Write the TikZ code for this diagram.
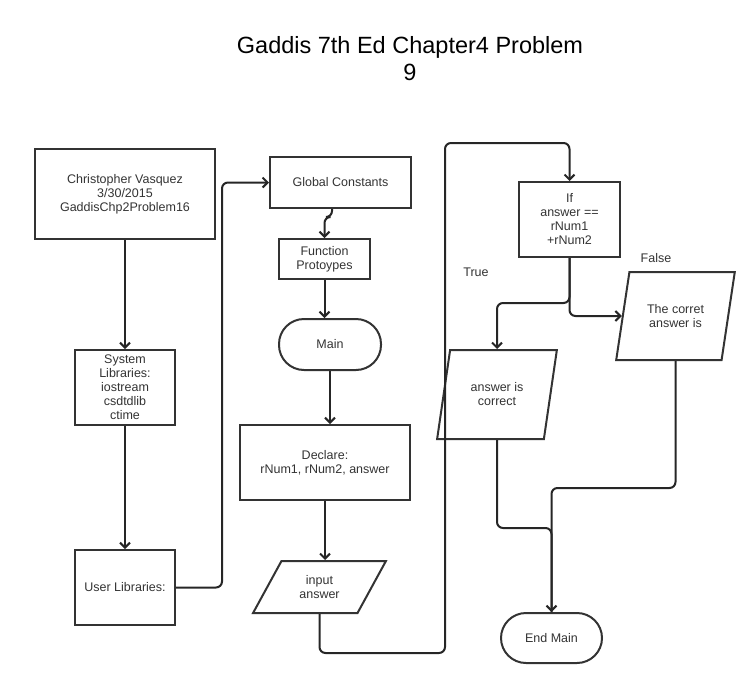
\documentclass[tikz,border=0pt]{standalone}
\usepackage{fontspec}
\setmainfont{Liberation Sans}
\usetikzlibrary{shapes.geometric,arrows.meta}
\definecolor{ln}{HTML}{333333}
\begin{document}
\begin{tikzpicture}[x=1pt,y=-1pt,line width=2pt,
    box/.style={draw=ln,rectangle,align=center,text=ln,inner sep=1pt,font=\fontsize{12.5}{14}\selectfont},
    term/.style={box,rounded corners=25pt},
    io/.style={box,trapezium,trapezium stretches=true,inner sep=0pt},
    arr/.style={draw=black!85,-{Straight Barb[length=5pt,width=10pt]},rounded corners=6pt},
    lnk/.style={draw=black!85,rounded corners=6pt}]
    \useasboundingbox (0,0) rectangle (747,683);
    \node (title) at (410,58.5) [align=center,font=\fontsize{23.5}{27}\selectfont] {Gaddis 7th Ed Chapter4 Problem\\9};
    \node (name) at (125,194) [box,minimum width=180,minimum height=90] {Christopher Vasquez\\3/30/2015\\GaddisChp2Problem16};
    \node (syslib) at (125,387.5) [box,minimum width=100,minimum height=75] {System\\Libraries:\\iostream\\csdtdlib\\ctime};
    \node (usrlib) at (125,587.5) [box,minimum width=100,minimum height=75] {User Libraries:};
    \node (glob) at (340.5,182.5) [box,minimum width=141,minimum height=51] {Global Constants};
    \node (proto) at (324.5,259) [box,minimum width=91,minimum height=40] {Function\\Protoypes};
    \node (main) at (330,344.5) [term,minimum width=102,minimum height=51] {Main};
    \node (decl) at (325,462.5) [box,minimum width=170,minimum height=75] {Declare:\\rNum1, rNum2, answer};
    \node (input) at (319.5,587) [io,trapezium left angle=57,trapezium right angle=123,minimum width=133,minimum height=52] {input\\answer};
    \node (cond) at (569.5,219.5) [box,minimum width=101,minimum height=75] {If\\answer ==\\rNum1\\+rNum2};
    \node (yes) at (497,394.5) [io,trapezium left angle=72.5,trapezium right angle=107.5,minimum width=120,minimum height=89] {answer is\\correct};
    \node (no) at (675.5,316) [io,trapezium left angle=70.6,trapezium right angle=109.4,minimum width=119,minimum height=88] {The corret\\answer is};
    \node (endm) at (551.5,638) [term,minimum width=101,minimum height=50] {End Main};
    \node (tlab) at (476,272) [font=\fontsize{12.5}{14}\selectfont,text=ln] {True};
    \node (flab) at (656,258) [font=\fontsize{12.5}{14}\selectfont,text=ln] {False};
    \coordinate (up) at (222,0); \coordinate (lpb) at (445,653); \coordinate (lpt) at (445,143);
    \draw[arr] (name) -- (syslib); \draw[arr] (syslib) -- (usrlib);
    \draw[arr] (usrlib.east) -- (usrlib.east -| up) |- (glob.west);
    \draw[arr] ([xshift=-8.5pt]glob.south) -- ++(0,8) -| (proto.north);
    \draw[arr] (proto.south) -- (proto.south |- main.north);
    \draw[arr] (main.south) -- (main.south |- decl.north);
    \draw[arr] (decl.south) -- (decl.south |- input.north);
    \draw[arr] (input.south) |- (lpb) -- (lpt) -| (cond.north);
    \draw[arr] (cond.south) -- ++(0,45) -| (yes.north);
    \draw[arr] (cond.south) |- (no.left side);
    \draw[lnk] (yes.south) -- ++(0,88) -| (endm.north);
    \draw[arr] (no.south) -- ++(0,127) -| (endm.north);
\end{tikzpicture}
\end{document}
